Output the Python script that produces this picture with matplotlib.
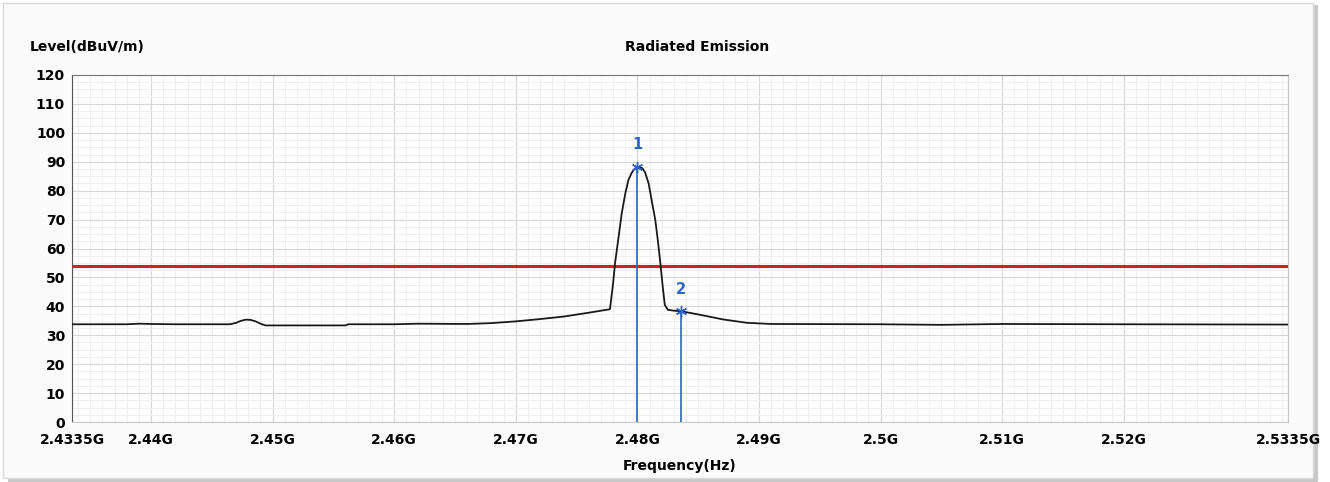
import matplotlib
matplotlib.use("Agg")
import matplotlib.pyplot as plt
from matplotlib.ticker import MultipleLocator, FixedLocator
from matplotlib.patches import Rectangle

plt.rcParams['font.family'] = ['DejaVu Sans']

# ---- data ----
freq_ghz = [2.4335, 2.4380, 2.4390, 2.4400, 2.4420, 2.4465, 2.4470, 2.4474, 2.4478,
            2.4482, 2.4486, 2.4490, 2.4494, 2.4560, 2.4562, 2.4600, 2.4620, 2.4660,
            2.4680, 2.4700, 2.4720, 2.4740, 2.4760, 2.47774, 2.4780, 2.47816, 2.47845,
            2.47871, 2.4790, 2.47926, 2.47953, 2.4798, 2.4801, 2.4804, 2.48063, 2.48092,
            2.4812, 2.48147, 2.4817, 2.4819, 2.4821, 2.48225, 2.4825, 2.4830, 2.4836,
            2.4850, 2.4870, 2.4890, 2.4910, 2.5000, 2.5050, 2.5100, 2.5200, 2.5335]
level_dbuv = [33.8, 33.8, 34.0, 33.9, 33.8, 33.8, 34.3, 35.0, 35.4,
              35.3, 34.8, 34.0, 33.4, 33.4, 33.8, 33.8, 34.0, 33.9,
              34.2, 34.8, 35.6, 36.5, 37.8, 39.0, 48.0, 55.0, 64.0,
              72.2, 79.0, 83.7, 86.2, 87.7, 88.2, 87.8, 86.3, 82.5,
              76.0, 69.8, 62.0, 54.3, 46.0, 40.5, 38.8, 38.5, 38.3,
              37.2, 35.5, 34.3, 33.9, 33.8, 33.6, 33.9, 33.8, 33.7]
limit_dbuv = 54.0
marker_ids = ["1", "2"]
marker_freq = [2.4800, 2.4836]
marker_level = [88.2, 38.3]

x_ticks = [2.4335, 2.44, 2.45, 2.46, 2.47, 2.48, 2.49, 2.50, 2.51, 2.52, 2.5335]
x_tick_labels = ["2.4335G", "2.44G", "2.45G", "2.46G", "2.47G", "2.48G", "2.49G",
                 "2.5G", "2.51G", "2.52G", "2.5335G"]
y_ticks = list(range(0, 121, 10))

# ---- figure ----
fig = plt.figure(figsize=(13.3, 4.82), dpi=100)
fig.patch.set_facecolor('white')
# panel with shadow
fig.add_artist(Rectangle((0.006, 0.0), 0.985, 0.99, transform=fig.transFigure,
                         facecolor='#c8c8c8', edgecolor='none', zorder=-3))
fig.add_artist(Rectangle((0.002, 0.008), 0.985, 0.985, transform=fig.transFigure,
                         facecolor='#fbfbfb', edgecolor='#d8d8d8', lw=1, zorder=-2))

ax = fig.add_axes([72/1330, 60/482, 1216/1330, 347/482])
ax.set_facecolor('white')

ax.set_xlim(2.4335, 2.5335)
ax.set_ylim(0, 120)

# grid
ax.xaxis.set_major_locator(FixedLocator(x_ticks))
ax.xaxis.set_minor_locator(MultipleLocator(0.001))
ax.yaxis.set_major_locator(FixedLocator(y_ticks))
ax.yaxis.set_minor_locator(MultipleLocator(2.5))
ax.grid(which='minor', color='#efefef', lw=0.7)
ax.grid(which='major', color='#d8d8d8', lw=0.9)
ax.set_axisbelow(True)

ax.set_xticklabels(x_tick_labels, fontsize=10, fontweight='bold')
ax.set_yticklabels([str(v) for v in y_ticks], fontsize=10, fontweight='bold')
ax.tick_params(which='both', length=0, pad=5)
ax.tick_params(axis='x', pad=8)

for s in ['right', 'bottom']:
    ax.spines[s].set_color('#c8c8c8')
ax.spines['left'].set_color('#555555')
ax.spines['top'].set_color('#777777')

# limit line
ax.axhline(limit_dbuv, color='#d42020', lw=2.2, zorder=3)

# trace
ax.plot(freq_ghz, level_dbuv, color='#1a1a1a', lw=1.3, zorder=4)

# markers
for mid, mf, ml in zip(marker_ids, marker_freq, marker_level):
    ax.plot([mf, mf], [0, ml], color='#2a64c8', lw=1.2, zorder=5)
    ax.plot([mf], [ml], marker=(6, 2, 0), color='#2a64c8', ms=8, mew=1.0, zorder=6)
    ax.text(mf, ml + 5, mid, color='#2a64c8', fontsize=10.5, fontweight='bold',
            ha='center', va='bottom')

fig.text(30/1330, 1 - 47/482, "Level(dBuV/m)", fontsize=10, fontweight='bold',
         ha='left', va='center')
fig.text(697/1330, 1 - 47/482, "Radiated Emission", fontsize=10, fontweight='bold',
         ha='center', va='center')
fig.text(680/1330, 1 - 466/482, "Frequency(Hz)", fontsize=10, fontweight='bold',
         ha='center', va='center')

fig.savefig('out.png', dpi=100)
